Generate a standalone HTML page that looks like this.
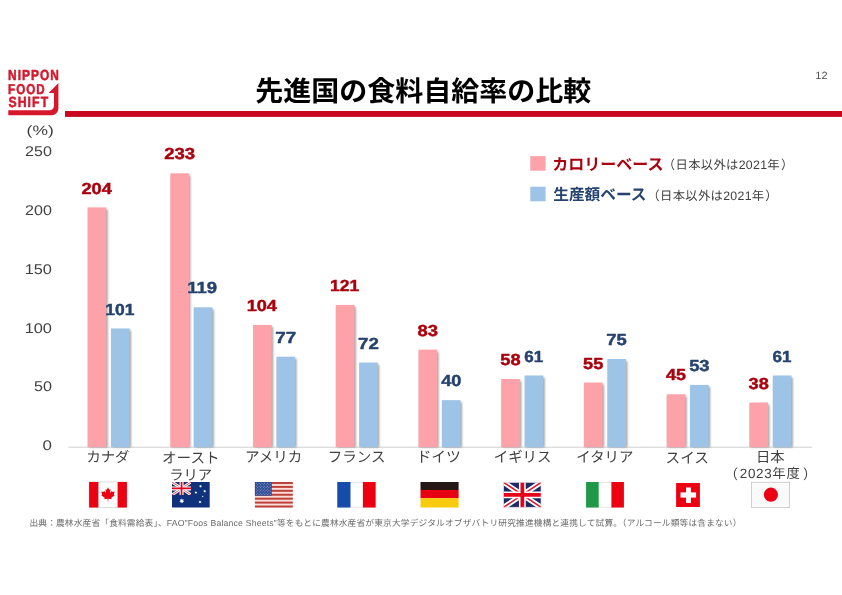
<!DOCTYPE html>
<html lang="ja"><head><meta charset="utf-8"><title>先進国の食料自給率の比較</title>
<style>
html,body{margin:0;padding:0;background:#fff}
body{width:842px;height:595px;position:relative;overflow:hidden;font-family:"Liberation Sans",sans-serif;text-rendering:geometricPrecision}
svg{position:absolute;left:0;top:0;display:block;will-change:transform;font-family:"Liberation Sans",sans-serif;text-rendering:geometricPrecision}
.h{position:absolute;white-space:nowrap;overflow:hidden;color:transparent;margin:0}
.j{font-family:"Liberation Sans","Noto Sans CJK JP",sans-serif}
</style></head><body>
<svg width="842" height="595" viewBox="0 0 842 595" font-family="Liberation Sans, sans-serif" text-rendering="geometricPrecision">
<defs><filter id="sh" x="-5%" y="-5%" width="110%" height="110%"><feGaussianBlur stdDeviation="1.2"/></filter></defs>
<rect x="65" y="111" width="777" height="5.9" fill="#C9081E"/>
<path fill="#D6182D" d="M8.3 110.3H49.5A4.5 4.5 0 0 0 54 105.8V92.9H48.7L58.4 83V108.5A6.8 6.8 0 0 1 51.6 115.3H8.3Z"/>
<text transform="translate(8.00 80) scale(0.8173 1)" font-size="14.55" fill="#D6182D" font-weight="bold" letter-spacing="1.30" stroke="#D6182D" stroke-width="0.55" stroke-linejoin="round">NIPPON</text>
<text transform="translate(8.02 94) scale(0.8128 1)" font-size="14.27" fill="#D6182D" font-weight="bold" letter-spacing="1.30" stroke="#D6182D" stroke-width="0.55" stroke-linejoin="round">FOOD</text>
<text transform="translate(8.45 107) scale(0.8331 1)" font-size="14.69" fill="#D6182D" font-weight="bold" letter-spacing="1.30" stroke="#D6182D" stroke-width="0.55" stroke-linejoin="round">SHIFT</text>
<text class="j" x="255.25" y="101" font-size="28" font-weight="bold" fill="#000" textLength="336" lengthAdjust="spacing">先進国の食料自給率の比較</text>
<text transform="translate(815.37 79) scale(1.0337 1)" font-size="10.60" fill="#505050">12</text>
<rect x="68.4" y="446.70" width="743.8" height="1" fill="#D0D0D0"/>
<text transform="translate(26.62 135) scale(1.2814 1)" font-size="13.63" fill="#404040">(%)</text>
<text transform="translate(25.09 156) scale(1.1388 1)" font-size="14.12" fill="#404040">250</text>
<text transform="translate(25.09 215) scale(1.1388 1)" font-size="14.12" fill="#404040">200</text>
<text transform="translate(24.65 274) scale(1.1578 1)" font-size="14.12" fill="#404040">150</text>
<text transform="translate(24.65 333) scale(1.1578 1)" font-size="14.12" fill="#404040">100</text>
<text transform="translate(33.95 391) scale(1.1444 1)" font-size="14.12" fill="#404040">50</text>
<text transform="translate(42.54 450) scale(1.1997 1)" font-size="14.12" fill="#404040">0</text>
<g fill="#000" fill-opacity=".38" filter="url(#sh)"><rect x="88.90" y="209.40" width="18.70" height="237.80"/><rect x="112.30" y="330.47" width="18.70" height="116.73"/><rect x="171.62" y="175.31" width="18.70" height="271.89"/><rect x="195.02" y="309.32" width="18.70" height="137.88"/><rect x="254.34" y="326.95" width="18.70" height="120.25"/><rect x="277.74" y="358.69" width="18.70" height="88.51"/><rect x="337.06" y="306.96" width="18.70" height="140.24"/><rect x="360.46" y="364.56" width="18.70" height="82.64"/><rect x="419.78" y="351.63" width="18.70" height="95.57"/><rect x="443.18" y="402.18" width="18.70" height="45.02"/><rect x="502.50" y="381.02" width="18.70" height="66.18"/><rect x="525.90" y="377.49" width="18.70" height="69.71"/><rect x="585.22" y="384.55" width="18.70" height="62.65"/><rect x="608.62" y="361.04" width="18.70" height="86.16"/><rect x="667.94" y="396.30" width="18.70" height="50.90"/><rect x="691.34" y="386.90" width="18.70" height="60.30"/><rect x="750.66" y="404.53" width="18.70" height="42.67"/><rect x="774.06" y="377.49" width="18.70" height="69.71"/></g>
<rect x="87.60" y="207.40" width="18.70" height="239.80" fill="#FEA2A9"/><rect x="111.00" y="328.47" width="18.70" height="118.73" fill="#9DC3E6"/><rect x="170.32" y="173.31" width="18.70" height="273.89" fill="#FEA2A9"/><rect x="193.72" y="307.32" width="18.70" height="139.88" fill="#9DC3E6"/><rect x="253.04" y="324.95" width="18.70" height="122.25" fill="#FEA2A9"/><rect x="276.44" y="356.69" width="18.70" height="90.51" fill="#9DC3E6"/><rect x="335.76" y="304.96" width="18.70" height="142.24" fill="#FEA2A9"/><rect x="359.16" y="362.56" width="18.70" height="84.64" fill="#9DC3E6"/><rect x="418.48" y="349.63" width="18.70" height="97.57" fill="#FEA2A9"/><rect x="441.88" y="400.18" width="18.70" height="47.02" fill="#9DC3E6"/><rect x="501.20" y="379.02" width="18.70" height="68.18" fill="#FEA2A9"/><rect x="524.60" y="375.49" width="18.70" height="71.71" fill="#9DC3E6"/><rect x="583.92" y="382.55" width="18.70" height="64.65" fill="#FEA2A9"/><rect x="607.32" y="359.04" width="18.70" height="88.16" fill="#9DC3E6"/><rect x="666.64" y="394.30" width="18.70" height="52.90" fill="#FEA2A9"/><rect x="690.04" y="384.90" width="18.70" height="62.30" fill="#9DC3E6"/><rect x="749.36" y="402.53" width="18.70" height="44.67" fill="#FEA2A9"/><rect x="772.76" y="375.49" width="18.70" height="71.71" fill="#9DC3E6"/>
<text transform="translate(81.42 194) scale(1.1389 1)" font-size="15.96" fill="#AA000E" font-weight="bold" stroke="#AA000E" stroke-width="0.45" stroke-linejoin="round">204</text>
<text transform="translate(105.35 315) scale(1.0961 1)" font-size="15.96" fill="#25436E" font-weight="bold" stroke="#25436E" stroke-width="0.45" stroke-linejoin="round">101</text>
<text transform="translate(164.13 159) scale(1.1608 1)" font-size="15.96" fill="#AA000E" font-weight="bold" stroke="#AA000E" stroke-width="0.45" stroke-linejoin="round">233</text>
<text transform="translate(187.31 293) scale(1.1585 1)" font-size="15.96" fill="#25436E" font-weight="bold" stroke="#25436E" stroke-width="0.45" stroke-linejoin="round">119</text>
<text transform="translate(246.65 311) scale(1.1356 1)" font-size="15.96" fill="#AA000E" font-weight="bold" stroke="#AA000E" stroke-width="0.45" stroke-linejoin="round">104</text>
<text transform="translate(275.29 343) scale(1.1732 1)" font-size="15.96" fill="#25436E" font-weight="bold" stroke="#25436E" stroke-width="0.45" stroke-linejoin="round">77</text>
<text transform="translate(330.11 291) scale(1.0961 1)" font-size="15.96" fill="#AA000E" font-weight="bold" stroke="#AA000E" stroke-width="0.45" stroke-linejoin="round">121</text>
<text transform="translate(358.01 349) scale(1.1687 1)" font-size="15.96" fill="#25436E" font-weight="bold" stroke="#25436E" stroke-width="0.45" stroke-linejoin="round">72</text>
<text transform="translate(417.55 336) scale(1.1518 1)" font-size="15.96" fill="#AA000E" font-weight="bold" stroke="#AA000E" stroke-width="0.45" stroke-linejoin="round">83</text>
<text transform="translate(441.25 386) scale(1.1390 1)" font-size="15.96" fill="#25436E" font-weight="bold" stroke="#25436E" stroke-width="0.45" stroke-linejoin="round">40</text>
<text transform="translate(500.29 365) scale(1.1448 1)" font-size="15.96" fill="#AA000E" font-weight="bold" stroke="#AA000E" stroke-width="0.45" stroke-linejoin="round">58</text>
<text transform="translate(524.33 362) scale(1.0643 1)" font-size="15.96" fill="#25436E" font-weight="bold" stroke="#25436E" stroke-width="0.45" stroke-linejoin="round">61</text>
<text transform="translate(583.01 369) scale(1.1417 1)" font-size="15.96" fill="#AA000E" font-weight="bold" stroke="#AA000E" stroke-width="0.45" stroke-linejoin="round">55</text>
<text transform="translate(606.18 345) scale(1.1550 1)" font-size="15.96" fill="#25436E" font-weight="bold" stroke="#25436E" stroke-width="0.45" stroke-linejoin="round">75</text>
<text transform="translate(666.02 380) scale(1.1250 1)" font-size="15.96" fill="#AA000E" font-weight="bold" stroke="#AA000E" stroke-width="0.45" stroke-linejoin="round">45</text>
<text transform="translate(689.13 371) scale(1.1507 1)" font-size="15.96" fill="#25436E" font-weight="bold" stroke="#25436E" stroke-width="0.45" stroke-linejoin="round">53</text>
<text transform="translate(748.59 389) scale(1.1364 1)" font-size="15.96" fill="#AA000E" font-weight="bold" stroke="#AA000E" stroke-width="0.45" stroke-linejoin="round">38</text>
<text transform="translate(772.49 362) scale(1.0643 1)" font-size="15.96" fill="#25436E" font-weight="bold" stroke="#25436E" stroke-width="0.45" stroke-linejoin="round">61</text>
<text class="j" x="86.45" y="462.07" font-size="14.3" fill="#404040">カナダ</text>
<text class="j" x="161.94" y="462.54" font-size="14.6" fill="#404040">オースト</text>
<text class="j" x="244.91" y="462.38" font-size="14.5" fill="#404040">アメリカ</text>
<text class="j" x="327.69" y="462.35" font-size="14.5" fill="#404040">フランス</text>
<text class="j" x="416.40" y="462.35" font-size="14.8" fill="#404040">ドイツ</text>
<text class="j" x="493.77" y="462.14" font-size="14.4" fill="#404040">イギリス</text>
<text class="j" x="576.37" y="462.36" font-size="14.4" fill="#404040">イタリア</text>
<text class="j" x="665.54" y="462.52" font-size="14.6" fill="#404040">スイス</text>
<text class="j" x="755.98" y="461.85" font-size="14.3" fill="#404040">日本</text>
<text class="j" x="169.18" y="479.68" font-size="14.3" fill="#404040">ラリア</text>
<text class="j" x="724.51" y="478.60" font-size="13.5" fill="#404040">（</text>
<text class="j" x="739.8" y="478.23" font-size="13.4" fill="#404040" textLength="60" lengthAdjust="spacing">2023年度</text>
<text class="j" x="802.88" y="478.60" font-size="13.5" fill="#404040">）</text>
<rect x="530.3" y="156.1" width="15.3" height="14.6" fill="#FEA2A9"/>
<rect x="530.3" y="186.7" width="15.3" height="14.6" fill="#9DC3E6"/>
<text class="j" x="552.37" y="169.65" font-size="16" font-weight="bold" fill="#AA000E">カロリーベース</text>
<text class="j" x="553.23" y="199.96" font-size="15.7" font-weight="bold" fill="#25436E">生産額ベース</text>
<text class="j" x="662.8" y="169.39" font-size="12.3" fill="#404040">（</text>
<text class="j" x="675.6" y="169.49" font-size="12.3" fill="#404040" textLength="104" lengthAdjust="spacing">日本以外は2021年</text>
<text class="j" x="780.93" y="169.39" font-size="12.3" fill="#404040">）</text>
<text class="j" x="647.2" y="199.79" font-size="12.3" fill="#404040">（</text>
<text class="j" x="660.1" y="199.89" font-size="12.3" fill="#404040" textLength="104" lengthAdjust="spacing">日本以外は2021年</text>
<text class="j" x="765.33" y="199.79" font-size="12.3" fill="#404040">）</text>
<text class="j" x="29.41" y="526.35" font-size="8.7" fill="#6A6A6A" textLength="712" lengthAdjust="spacing">出典：農林水産省「食料需給表」、FAO”Foos Balance Sheets”等をもとに農林水産省が東京大学デジタルオブザバトリ研究推進機構と連携して試算。（アルコール類等は含まない）</text>
<rect x="89.10" y="482.00" width="37.80" height="25.50" fill="#fff" stroke="#C8C8C8" stroke-width=".6"/><rect x="89.10" y="482.00" width="9.30" height="25.50" fill="#EC0012"/><rect x="117.60" y="482.00" width="9.30" height="25.50" fill="#EC0012"/><path fill="#EC0012" transform="translate(100.60 487.00) scale(0.1480)" d="M50 2L58 18L67 13L63 40L77 25L80 33L95 30L89 50L96 55L72 73L75 82L52 79L52 98L48 98L48 79L25 82L28 73L4 55L11 50L5 30L20 33L23 25L37 40L33 13L42 18Z"/>
<rect x="172.00" y="482.00" width="37.70" height="25.50" fill="#10327C"/>
<g transform="translate(172.00 482.00)"><clipPath id="ujA"><rect width="19.10" height="12.90"/></clipPath><g clip-path="url(#ujA)"><rect width="19.10" height="12.90" fill="#1A2C66"/><path d="M0 0L19.10 12.90M19.10 0L0 12.90" stroke="#fff" stroke-width="2.90"/><path d="M0 0L19.10 12.90M19.10 0L0 12.90" stroke="#DA1A32" stroke-width="0.80"/><path d="M9.55 0V12.90M0 6.45H19.10" stroke="#fff" stroke-width="4.00"/><path d="M9.55 0V12.90M0 6.45H19.10" stroke="#E60019" stroke-width="1.70"/></g></g>
<polygon fill="#fff" points="181.80,498.30 182.36,499.73 183.83,499.28 183.07,500.61 184.33,501.48 182.82,501.71 182.93,503.24 181.80,502.20 180.67,503.24 180.78,501.71 179.27,501.48 180.53,500.61 179.77,499.28 181.24,499.73"/>
<polygon fill="#fff" points="200.50,484.80 200.83,485.62 201.67,485.36 201.23,486.13 201.96,486.63 201.09,486.77 201.15,487.65 200.50,487.05 199.85,487.65 199.91,486.77 199.04,486.63 199.77,486.13 199.33,485.36 200.17,485.62"/>
<polygon fill="#fff" points="195.90,491.10 196.23,491.92 197.07,491.66 196.63,492.43 197.36,492.93 196.49,493.07 196.55,493.95 195.90,493.35 195.25,493.95 195.31,493.07 194.44,492.93 195.17,492.43 194.73,491.66 195.57,491.92"/>
<polygon fill="#fff" points="204.70,489.70 205.03,490.52 205.87,490.26 205.43,491.03 206.16,491.53 205.29,491.67 205.35,492.55 204.70,491.95 204.05,492.55 204.11,491.67 203.24,491.53 203.97,491.03 203.53,490.26 204.37,490.52"/>
<polygon fill="#fff" points="200.00,500.50 200.33,501.32 201.17,501.06 200.73,501.83 201.46,502.33 200.59,502.47 200.65,503.35 200.00,502.75 199.35,503.35 199.41,502.47 198.54,502.33 199.27,501.83 198.83,501.06 199.67,501.32"/>
<polygon fill="#fff" points="202.70,495.50 202.96,496.04 203.56,496.12 203.13,496.54 203.23,497.13 202.70,496.85 202.17,497.13 202.27,496.54 201.84,496.12 202.44,496.04"/>
<rect x="254.90" y="482.00" width="37.90" height="25.50" fill="#FBDDD8"/><rect x="254.90" y="482.00" width="37.90" height="1.96" fill="#BC3F3A"/><rect x="254.90" y="485.92" width="37.90" height="1.96" fill="#BC3F3A"/><rect x="254.90" y="489.85" width="37.90" height="1.96" fill="#BC3F3A"/><rect x="254.90" y="493.77" width="37.90" height="1.96" fill="#BC3F3A"/><rect x="254.90" y="497.69" width="37.90" height="1.96" fill="#BC3F3A"/><rect x="254.90" y="501.62" width="37.90" height="1.96" fill="#BC3F3A"/><rect x="254.90" y="505.54" width="37.90" height="1.96" fill="#BC3F3A"/><rect x="254.90" y="482.00" width="16.90" height="13.73" fill="#2F4C97"/><g fill="#fff" fill-opacity=".5"><circle cx="256.30" cy="483.35" r=".5"/><circle cx="259.10" cy="483.35" r=".5"/><circle cx="261.90" cy="483.35" r=".5"/><circle cx="264.70" cy="483.35" r=".5"/><circle cx="267.50" cy="483.35" r=".5"/><circle cx="270.30" cy="483.35" r=".5"/><circle cx="257.70" cy="484.75" r=".5"/><circle cx="260.50" cy="484.75" r=".5"/><circle cx="263.30" cy="484.75" r=".5"/><circle cx="266.10" cy="484.75" r=".5"/><circle cx="268.90" cy="484.75" r=".5"/><circle cx="256.30" cy="486.15" r=".5"/><circle cx="259.10" cy="486.15" r=".5"/><circle cx="261.90" cy="486.15" r=".5"/><circle cx="264.70" cy="486.15" r=".5"/><circle cx="267.50" cy="486.15" r=".5"/><circle cx="270.30" cy="486.15" r=".5"/><circle cx="257.70" cy="487.55" r=".5"/><circle cx="260.50" cy="487.55" r=".5"/><circle cx="263.30" cy="487.55" r=".5"/><circle cx="266.10" cy="487.55" r=".5"/><circle cx="268.90" cy="487.55" r=".5"/><circle cx="256.30" cy="488.95" r=".5"/><circle cx="259.10" cy="488.95" r=".5"/><circle cx="261.90" cy="488.95" r=".5"/><circle cx="264.70" cy="488.95" r=".5"/><circle cx="267.50" cy="488.95" r=".5"/><circle cx="270.30" cy="488.95" r=".5"/><circle cx="257.70" cy="490.35" r=".5"/><circle cx="260.50" cy="490.35" r=".5"/><circle cx="263.30" cy="490.35" r=".5"/><circle cx="266.10" cy="490.35" r=".5"/><circle cx="268.90" cy="490.35" r=".5"/><circle cx="256.30" cy="491.75" r=".5"/><circle cx="259.10" cy="491.75" r=".5"/><circle cx="261.90" cy="491.75" r=".5"/><circle cx="264.70" cy="491.75" r=".5"/><circle cx="267.50" cy="491.75" r=".5"/><circle cx="270.30" cy="491.75" r=".5"/><circle cx="257.70" cy="493.15" r=".5"/><circle cx="260.50" cy="493.15" r=".5"/><circle cx="263.30" cy="493.15" r=".5"/><circle cx="266.10" cy="493.15" r=".5"/><circle cx="268.90" cy="493.15" r=".5"/><circle cx="256.30" cy="494.55" r=".5"/><circle cx="259.10" cy="494.55" r=".5"/><circle cx="261.90" cy="494.55" r=".5"/><circle cx="264.70" cy="494.55" r=".5"/><circle cx="267.50" cy="494.55" r=".5"/><circle cx="270.30" cy="494.55" r=".5"/></g>
<rect x="337.3" y="482.30" width="38.2" height="24.90" fill="#fff" stroke="#D4D4D4" stroke-width=".6"/><rect x="337.30" y="482.00" width="13.20" height="25.50" fill="#164DAC"/><rect x="362.90" y="482.00" width="12.70" height="25.50" fill="#EC0012"/>
<rect x="420.5" y="482.0" width="38.1" height="8.0" fill="#231815"/><rect x="420.5" y="489.9" width="38.1" height="8.4" fill="#E60012"/><rect x="420.5" y="498.2" width="38.1" height="9.3" fill="#F8CB0E"/>
<g transform="translate(503.50 482.30)"><clipPath id="ujB"><rect width="37.70" height="25.10"/></clipPath><g clip-path="url(#ujB)"><rect width="37.70" height="25.10" fill="#1A2C66"/><path d="M0 0L37.70 25.10M37.70 0L0 25.10" stroke="#fff" stroke-width="5.20"/><path d="M0 0L37.70 25.10M37.70 0L0 25.10" stroke="#DA1A32" stroke-width="1.60"/><path d="M18.85 0V25.10M0 12.55H37.70" stroke="#fff" stroke-width="6.80"/><path d="M18.85 0V25.10M0 12.55H37.70" stroke="#E60019" stroke-width="3.70"/><rect width="37.70" height="25.10" fill="none" stroke="#F3D9DC" stroke-width="1"/></g></g>
<rect x="586.1" y="482.30" width="37.6" height="24.90" fill="#fff" stroke="#D4D4D4" stroke-width=".6"/><rect x="586.10" y="482.00" width="12.60" height="25.50" fill="#1F9947"/><rect x="611.40" y="482.00" width="12.50" height="25.50" fill="#EC0012"/>
<rect x="676.1" y="483.0" width="23.8" height="24.0" fill="#EC0012"/><rect x="686.0" y="487.5" width="4.9" height="15.4" fill="#fff"/><rect x="680.5" y="492.4" width="15.6" height="5.2" fill="#fff"/>
<rect x="751.4" y="482.2" width="38.3" height="25.2" fill="#FAFAFA" stroke="#B4B4B4" stroke-width=".6"/><circle cx="770.9" cy="494.7" r="7.1" fill="#EC0012"/>
</svg>
<div class="h" style="left:256.0px;top:76.0px;width:335.0px;height:30.0px;font-size:28.0px;line-height:30.0px">先進国の食料自給率の比較</div>
<div class="h" style="left:88.0px;top:448.0px;width:40.6px;height:17.0px;font-size:14.6px;line-height:17.0px">カナダ</div>
<div class="h" style="left:163.2px;top:448.0px;width:55.0px;height:17.0px;font-size:14.6px;line-height:17.0px">オースト</div>
<div class="h" style="left:246.7px;top:448.0px;width:53.9px;height:17.0px;font-size:14.6px;line-height:17.0px">アメリカ</div>
<div class="h" style="left:329.8px;top:448.0px;width:54.5px;height:17.0px;font-size:14.6px;line-height:17.0px">フランス</div>
<div class="h" style="left:420.8px;top:448.0px;width:38.6px;height:17.0px;font-size:14.6px;line-height:17.0px">ドイツ</div>
<div class="h" style="left:495.0px;top:448.0px;width:54.7px;height:17.0px;font-size:14.6px;line-height:17.0px">イギリス</div>
<div class="h" style="left:577.6px;top:448.0px;width:55.2px;height:17.0px;font-size:14.6px;line-height:17.0px">イタリア</div>
<div class="h" style="left:667.0px;top:448.0px;width:41.0px;height:17.0px;font-size:14.6px;line-height:17.0px">スイス</div>
<div class="h" style="left:758.0px;top:448.0px;width:27.0px;height:17.0px;font-size:14.6px;line-height:17.0px">日本</div>
<div class="h" style="left:170.0px;top:466.0px;width:41.0px;height:16.0px;font-size:14.6px;line-height:16.0px">ラリア</div>
<div class="h" style="left:733.0px;top:465.0px;width:75.0px;height:18.0px;font-size:14.6px;line-height:18.0px">（2023年度）</div>
<div class="h" style="left:553.0px;top:154.0px;width:233.0px;height:18.0px;font-size:14.0px;line-height:18.0px">カロリーベース（日本以外は2021年）</div>
<div class="h" style="left:553.0px;top:185.0px;width:218.0px;height:18.0px;font-size:14.0px;line-height:18.0px">生産額ベース（日本以外は2021年）</div>
<div class="h" style="left:29.0px;top:517.0px;width:712.0px;height:12.0px;font-size:8.6px;line-height:12.0px">出典：農林水産省「食料需給表」、FAO”Foos Balance Sheets”等をもとに農林水産省が東京大学デジタルオブザバトリ研究推進機構と連携して試算。（アルコール類等は含まない）</div>
</body></html>
